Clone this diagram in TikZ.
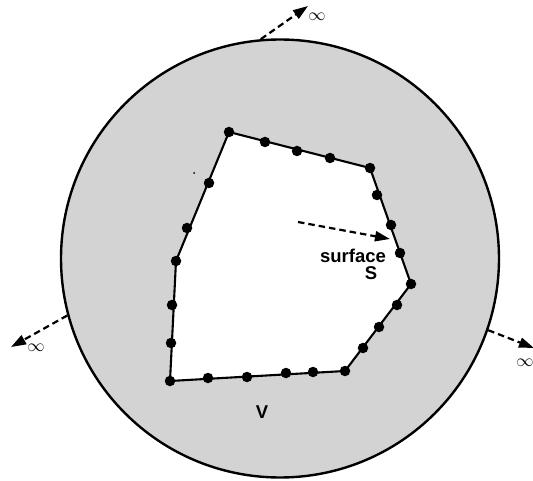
\documentclass[tikz,border=0pt]{standalone}
\usepackage{fontspec}
\setmainfont{Liberation Sans}
\usetikzlibrary{arrows.meta}
\definecolor{fillgray}{RGB}{211,211,211}
\begin{document}
\begin{tikzpicture}[x=1pt,y=-1pt,
  dot/.style={circle,fill=black,inner sep=0pt,minimum size=10.5pt},
  edge/.style={line width=2.1pt,line join=round},
  dasharrow/.style={line width=2.2pt,dash pattern=on 6.5pt off 4pt,-{Triangle[length=15pt,width=10pt]}},
  lbl/.style={font=\fontsize{18.5}{21}\selectfont\bfseries,inner sep=0pt},
  inf/.style={font=\fontsize{19}{21}\selectfont,inner sep=0pt}]
\useasboundingbox (0,0) rectangle (533,481);
\node[circle,draw,line width=2.4pt,fill=fillgray,minimum size=438pt,inner sep=0pt] (disk) at (280,258.5) {};
% polygon corners
\coordinate (c1) at (229,132);
\coordinate (c2) at (370,168);
\coordinate (c3) at (411,284);
\coordinate (c4) at (345,371);
\coordinate (c5) at (170,381);
\coordinate (c6) at (176,261);
\fill[white] (c1)--(c2)--(c3)--(c4)--(c5)--(c6)--cycle;
\draw[edge] (c1)--(c2)--(c3)--(c4)--(c5)--(c6)--cycle;
% dots
\foreach \n/\p in {d1/{(229,132)},d2/{(265,142)},d3/{(297,151)},d4/{(330,158)},d5/{(370,168)},
  d6/{(377,195)},d7/{(391,225)},d8/{(400,253)},d9/{(411,284)},
  d10/{(397,305)},d11/{(379,327)},d12/{(363,348)},d13/{(345,371)},
  d14/{(313,372)},d15/{(286,373)},d16/{(247,377)},d17/{(208,378)},d18/{(170,381)},
  d19/{(171,343)},d20/{(172,305)},d21/{(176,261)},d22/{(187,228)},d23/{(209,183)}}
  \node[dot] (\n) at \p {};
\node[circle,fill=black,inner sep=0pt,minimum size=2pt] (speck) at (194,173) {};
% arrows to infinity
\coordinate (t1) at (308,6);
\coordinate (t2) at (11,347);
\coordinate (t3) at (534,348);
\draw[dasharrow] (disk.95) -- (t1);
\draw[dasharrow] (disk.195) -- (t2);
\draw[dasharrow] (disk.341.6) -- (t3);
\node[inf] (i1) at (317,17) {$\infty$};
\node[inf] (i2) at (36,348) {$\infty$};
\node[inf] (i3) at (525,363) {$\infty$};
% surface arrow
\coordinate (a0) at (298,222);
\coordinate (a1) at (390,239);
\draw[dasharrow] (a0) -- (a1);
\node[lbl] (surf) at (353,256) {surface};
\node[lbl] (S) at (371,273) {S};
\node[lbl] (V) at (262,412) {V};
\end{tikzpicture}
\end{document}
